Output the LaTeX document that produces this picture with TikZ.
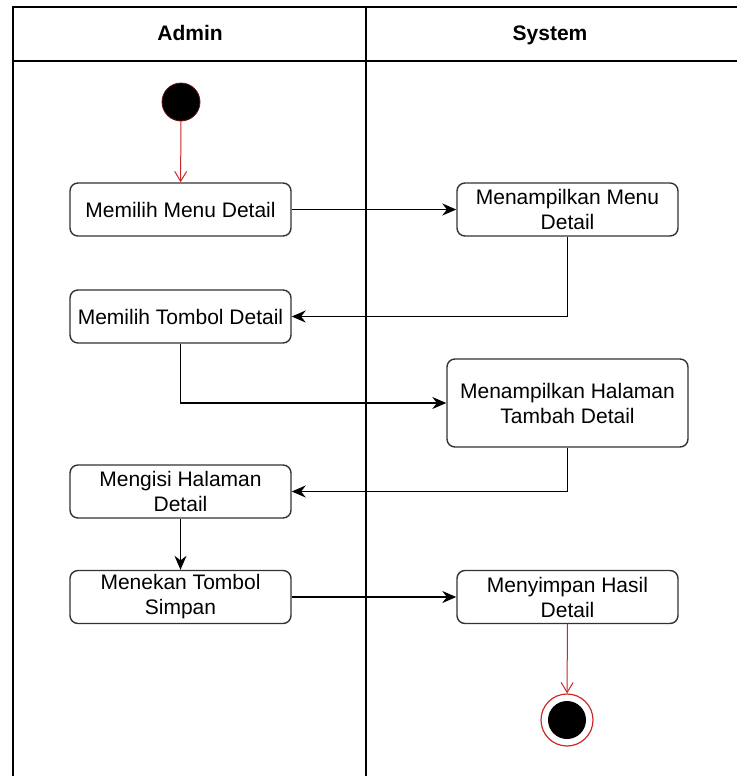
\documentclass[tikz,border=0pt]{standalone}
\usepackage{fontspec}
\setmainfont{Liberation Sans}
\usetikzlibrary{arrows.meta}
\definecolor{umlred}{RGB}{204,40,40}
\begin{document}
\begin{tikzpicture}[x=0.5pt,y=-0.5pt,
    activity/.style={draw=black!80, line width=0.7pt, rounded corners=4pt, fill=white,
      minimum width=110.5pt, minimum height=26.5pt, inner sep=1pt, align=center,
      font=\fontsize{10.5}{12.5}\selectfont},
    lanehead/.style={font=\fontsize{10.5}{12.5}\selectfont\bfseries, text height=1.6ex, text depth=0.4ex},
    flow/.style={-{Stealth[length=7pt,width=6pt]}, line width=0.7pt},
    redflow/.style={-{Straight Barb[length=5pt,width=6pt]}, draw=umlred, line width=0.5pt}]
    \useasboundingbox (0,0) rectangle (737,776);

    % swimlanes
    \draw[line width=1pt] (13,776) -- (13,7) -- (737,7);
    \draw[line width=1pt] (13,61) -- (737,61);
    \draw[line width=1pt] (366,7) -- (366,776);
    \node[lanehead] (admin) at (190,34) {Admin};
    \node[lanehead] (system) at (550,34) {System};

    % activities
    \node[circle, fill=black, draw=umlred!50!black, minimum size=19pt, inner sep=0pt] (start) at (181,102) {};
    \node[activity] (menu) at (180.5,209.5) {Memilih Menu Detail};
    \node[activity] (tampilmenu) at (567.5,209.5) {Menampilkan Menu\\Detail};
    \node[activity] (tombol) at (180.5,316.5) {Memilih Tombol Detail};
    \node[activity, minimum width=120.5pt, minimum height=44pt] (tampilhal) at (567.5,403) {Menampilkan Halaman\\Tambah Detail};
    \node[activity] (isi) at (180.5,491.5) {Mengisi Halaman\\Detail};
    \node[activity] (tekan) at (180.5,597) {Menekan Tombol\\Simpan};
    \node[activity] (simpan) at (567.5,597) {Menyimpan Hasil\\Detail};
    \node[circle, draw=umlred, line width=0.6pt, minimum size=26pt, inner sep=0pt] (end) at (567,720) {};
    \fill[black] (end.center) circle (9.5pt);

    % flows
    \draw[redflow] (start) -- (menu);
    \draw[flow] (menu.east) -- (tampilmenu.west);
    \draw[flow] (tampilmenu.south) |- (tombol.east);
    \draw[flow] (tombol.south) |- (tampilhal.west);
    \draw[flow] (tampilhal.south) |- (isi.east);
    \draw[flow] (isi) -- (tekan);
    \draw[flow] (tekan) -- (simpan);
    \draw[redflow] (simpan) -- (end);
\end{tikzpicture}
\end{document}
